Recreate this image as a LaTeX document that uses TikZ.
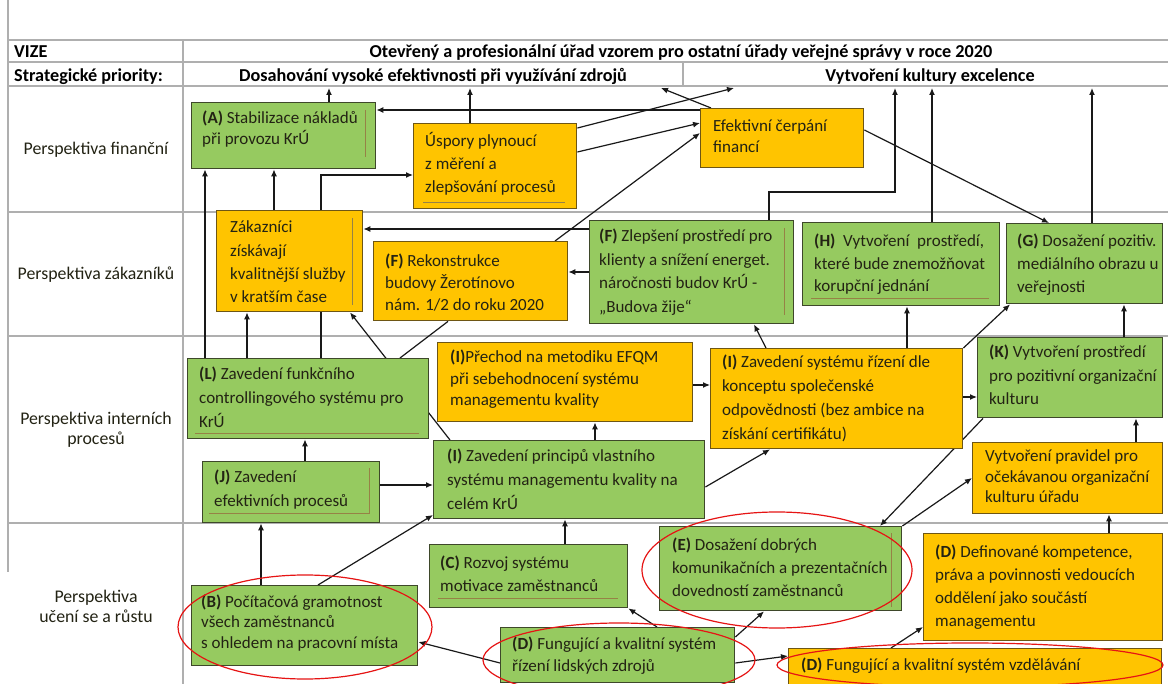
\documentclass[tikz,border=0pt]{standalone}
\usepackage{fontspec}
\setmainfont{Carlito}
\usetikzlibrary{arrows.meta,backgrounds}
\definecolor{gfill}{RGB}{150,202,96}
\definecolor{yfill}{RGB}{255,196,0}
\definecolor{gedge}{RGB}{62,72,42}
\definecolor{yedge}{RGB}{110,86,20}
\definecolor{tabline}{RGB}{175,175,175}
\definecolor{txtc}{RGB}{35,35,20}
\definecolor{innerc}{RGB}{150,130,70}
\definecolor{ellred}{RGB}{230,20,20}
\newcommand{\boxtxt}[2][22.5]{\fontsize{17}{#1}\selectfont\begin{tabular}[t]{@{}l@{}}#2\end{tabular}}
\newcommand{\ctrtxt}[2][20]{\fontsize{17.8}{#1}\selectfont\begin{tabular}[t]{@{}c@{}}#2\end{tabular}}
\tikzset{
  bx/.style={draw, line width=1.4pt, inner sep=0pt, anchor=north west},
  gbox/.style={bx, fill=gfill, draw=gedge},
  ybox/.style={bx, fill=yfill, draw=yedge},
  txt/.style={inner sep=0pt, anchor=base west, text=txtc},
  lbl/.style={inner sep=0pt, anchor=base, text=txtc},
  hdr/.style={inner sep=0pt, anchor=base, text=black, font=\fontsize{18.2}{20}\selectfont\bfseries},
  arr/.style={draw=black!90, line width=1.2pt, -{Latex[length=7pt,width=6pt]}},
  plainln/.style={draw=black!90, line width=1.2pt},
  tabrule/.style={draw=tabline, line width=1.6pt},
  innerline/.style={draw=innerc, line width=0.7pt},
  redring/.style={draw=ellred, line width=1.2pt},
}
\begin{document}
\begin{tikzpicture}[x=1pt,y=-1pt]
\useasboundingbox (0,0) rectangle (1168,684);
\clip (0,0) rectangle (1168,684);

% ---------- header texts ----------
\node[hdr, anchor=base west] (vize) at (14,58) {VIZE};
\node[hdr, anchor=base west] (strat) at (14,82) {Strategické priority:};
\node[hdr] (vision) at (681,58) {Otevřený a profesionální úřad vzorem pro ostatní úřady veřejné správy v roce 2020};
\node[hdr] (prio1) at (433,82) {Dosahování vysoké efektivnosti při využívání zdrojů};
\node[hdr] (prio2) at (930,82) {Vytvoření kultury excelence};

% ---------- row labels ----------
\node[lbl] (rF) at (96,155) {\ctrtxt{Perspektiva finanční}};
\node[lbl] (rZ) at (96,280) {\ctrtxt{Perspektiva zákazníků}};
\node[lbl] (rI) at (96,425) {\ctrtxt{Perspektiva interních\\procesů}};
\node[lbl] (rU) at (96,602) {\ctrtxt{Perspektiva\\učení se a růstu}};

% ---------- boxes ----------
\node[gbox, minimum width=184pt, minimum height=66pt] (A) at (191,102) {};
\node[ybox, minimum width=163pt, minimum height=85pt] (Usp) at (413,123) {};
\node[ybox, minimum width=163pt, minimum height=59pt] (Efe) at (700,108) {};
\node[ybox, minimum width=146pt, minimum height=101pt] (Zak) at (216,210) {};
\node[ybox, minimum width=194pt, minimum height=79pt] (Rek) at (373,241) {};
\node[gbox, minimum width=204pt, minimum height=103pt] (FZl) at (589,220) {};
\node[gbox, minimum width=197pt, minimum height=83pt] (H) at (802,222) {};
\node[gbox, minimum width=156pt, minimum height=80pt] (G) at (1006,223) {};
\node[gbox, minimum width=241pt, minimum height=80pt] (L) at (187,358) {};
\node[ybox, minimum width=255pt, minimum height=79pt] (EFQM) at (437,342) {};
\node[ybox, minimum width=252pt, minimum height=100pt] (I2) at (710,348) {};
\node[gbox, minimum width=185pt, minimum height=80pt] (K) at (977,337) {};
\node[gbox, minimum width=177pt, minimum height=61pt] (J) at (202,461) {};
\node[gbox, minimum width=271pt, minimum height=78pt] (I1) at (433,440) {};
\node[ybox, minimum width=190pt, minimum height=71pt] (Prav) at (972,442) {};
\node[gbox, minimum width=198pt, minimum height=63pt] (C) at (429,544) {};
\node[gbox, minimum width=242pt, minimum height=84pt] (E) at (659,526) {};
\node[ybox, minimum width=239pt, minimum height=107pt] (Def) at (923,533) {};
\node[gbox, minimum width=226pt, minimum height=80pt] (B) at (191,585) {};
\node[gbox, minimum width=234pt, minimum height=55pt] (DHR) at (500,627) {};
\node[ybox, minimum width=373pt, minimum height=36pt] (Dvzd) at (788,648) {};

% ---------- box texts ----------
\node[txt] (tA) at (202,124) {\boxtxt[21]{\textbf{(A)} Stabilizace nákladů\\při provozu KrÚ}};
\node[txt] (tUsp) at (425,147) {\boxtxt[23]{Úspory plynoucí\\z měření a\\zlepšování procesů}};
\node[txt] (tEfe) at (713,132) {\boxtxt[21]{Efektivní čerpání\\financí}};
\node[txt] (tZak) at (230,233) {\boxtxt[23.3]{Zákazníci\\získávají\\kvalitnější služby\\v kratším čase}};
\node[txt] (tRek) at (385,267) {\boxtxt[22]{\textbf{(F)} Rekonstrukce\\budovy Žerotínovo\\nám. 1/2 do roku 2020}};
\node[txt] (tFZl) at (599,242) {\boxtxt[23.5]{\textbf{(F)} Zlepšení prostředí pro\\klienty a snížení energet.\\náročnosti budov KrÚ -\\„Budova žije“}};
\node[txt] (tH) at (814,247) {\boxtxt[22.5]{\textbf{(H)}\ \ Vytvoření\ \ prostředí,\\které bude znemožňovat\\korupční jednání}};
\node[txt] (tG) at (1017,247) {\boxtxt[23]{\textbf{(G)} Dosažení pozitiv.\\mediálního obrazu u\\veřejnosti}};
\node[txt] (tL) at (199,380) {\boxtxt[24]{\textbf{(L)} Zavedení funkčního\\controllingového systému pro\\KrÚ}};
\node[txt] (tEFQM) at (450,363) {\boxtxt[21.5]{\textbf{(I)}Přechod na metodiku EFQM\\při sebehodnocení systému\\managementu kvality}};
\node[txt] (tI2) at (722,368) {\boxtxt[24]{\textbf{(I)} Zavedení systému řízení dle\\konceptu společenské\\odpovědnosti (bez ambice na\\získání certifikátu)}};
\node[txt] (tK) at (989,358) {\boxtxt[23.5]{\textbf{(K)} Vytvoření prostředí\\pro pozitivní organizační\\kulturu}};
\node[txt] (tJ) at (214,483) {\boxtxt[24]{\textbf{(J)} Zavedení\\efektivních procesů}};
\node[txt] (tI1) at (447,462) {\boxtxt[24]{\textbf{(I)} Zavedení principů vlastního\\systému managementu kvality na\\celém KrÚ}};
\node[txt] (tPrav) at (985,462) {\boxtxt[20.5]{Vytvoření pravidel pro\\očekávanou organizační\\kulturu úřadu}};
\node[txt] (tC) at (440,568) {\boxtxt[24]{\textbf{(C)} Rozvoj systému\\motivace zaměstnanců}};
\node[txt] (tE) at (672,550) {\boxtxt[23.5]{\textbf{(E)} Dosažení dobrých\\komunikačních a prezentačních\\dovedností zaměstnanců}};
\node[txt] (tDef) at (935,557) {\boxtxt[23.3]{\textbf{(D)} Definované kompetence,\\práva a povinnosti vedoucích\\oddělení jako součástí\\managementu}};
\node[txt] (tB) at (201,607) {\boxtxt[20.5]{\textbf{(B)} Počítačová gramotnost\\všech zaměstnanců\\s ohledem na pracovní místa}};
\node[txt] (tDHR) at (512,649) {\boxtxt[22]{\textbf{(D)} Fungující a kvalitní systém\\řízení lidských zdrojů}};
\node[txt] (tDvzd) at (801,670) {\boxtxt{\textbf{(D)} Fungující a kvalitní systém vzdělávání}};

% ---------- faint inner text-frame lines ----------
\draw[innerline] (365,110) -- (365,157);
\draw[innerline] (423,202) -- (565,202);
\draw[innerline] (352,218) -- (352,305);
\draw[innerline] (784,228) -- (784,315);
\draw[innerline] (811,298) -- (989,298);
\draw[innerline] (195,433) -- (419,433);
\draw[innerline] (369,468) -- (369,513) -- (209,513);
\draw[innerline] (438,598) -- (618,598);
\draw[innerline] (891,533) -- (891,607);

% ---------- red ellipses ----------
\draw[redring] (305,627) ellipse [x radius=127pt, y radius=52pt];
\draw[redring] (777,570) ellipse [x radius=135pt, y radius=58pt];
\draw[redring] (619,660) ellipse [x radius=136pt, y radius=37pt];
\draw[redring] (970,665) ellipse [x radius=193pt, y radius=22pt];

% ---------- free ends ----------
\coordinate (pA) at (329,88);
\coordinate (pU) at (470,88);
\coordinate (pE1) at (661,88);
\coordinate (pE2) at (734,88);
\coordinate (pF) at (895,88);
\coordinate (bF) at (895,192);
\coordinate (pH) at (932,88);
\coordinate (pG) at (1092,88);

\begin{scope}[on background layer]
\fill[white] (0,0) rectangle (1168,684);
% table
\draw[tabrule] (8,0) -- (8,572);
\draw[tabrule] (8,40) -- (1168,40);
\draw[tabrule] (8,62) -- (1168,62);
\draw[tabrule] (8,86) -- (1168,86);
\draw[tabrule] (8,212) -- (1168,212);
\draw[tabrule] (8,336) -- (1168,336);
\draw[tabrule] (8,523) -- (1168,523);
\draw[tabrule] (183,40) -- (183,684);
\draw[tabrule] (683,62) -- (683,86);
% connectors
\draw[arr] (A.north -| pA) -- (pA);
\draw[arr] (Usp.north -| pU) -- (pU);
\draw[arr] (Efe.north -| 711,0) -- (pE1);
\draw[arr] (Usp.east |- 0,128) -- (pE2);
\draw[arr] (Usp.east |- 0,152) -- (Efe.west |- 0,123);
\draw[arr] (Rek.north -| 555,0) -- (Efe.west |- 0,133);
\draw[arr] (Efe.west |- 0,110) -- (A.east |- 0,110);
\draw[arr] (FZl.north -| 769,0) |- (bF) -- (pF);
\draw[arr] (H.north -| pH) -- (pH);
\draw[arr] (G.north -| pG) -- (pG);
\draw[arr] (Efe.east |- 0,130) -- (G.north -| 1049,0);
\draw[arr] (L.north -| 205,0) -- (A.south -| 205,0);
\draw[arr] (Zak.north -| 274,0) -- (A.south -| 274,0);
\draw[arr] (L.north -| 321,0) |- (Usp.west |- 0,175);
\draw[arr] (L.north -| 247,0) -- (Zak.south -| 247,0);
\draw[arr] (I1.north -| 450,0) -- (Zak.south -| 350,0);
\draw[plainln] (L.north -| 400,0) -- (Rek.south -| 448,0);
\draw[arr] (FZl.west |- 0,229) -- (Zak.east |- 0,229);
\draw[arr] (FZl.west |- 0,272) -- (Rek.east |- 0,272);
\draw[arr] (I2.north -| 766,0) -- (FZl.south -| 754,0);
\draw[arr] (I2.north -| 907,0) -- (H.south -| 907,0);
\draw[arr] (I2.north east) -- (G.south -| 1010,0);
\draw[arr] (K.north -| 1124,0) -- (G.south -| 1124,0);
\draw[arr] (J.north -| 305,0) -- (L.south -| 305,0);
\draw[arr] (J.east |- 0,485) -- (I1.west |- 0,485);
\draw[arr] (I1.north -| 595,0) -- (EFQM.south -| 595,0);
\draw[arr] (EFQM.east |- 0,385) -- (I2.west |- 0,385);
\draw[arr] (I1.east |- 0,487) -- (I2.south -| 770,0);
\draw[arr] (I2.east |- 0,397) -- (K.west |- 0,397);
\draw[arr] (Prav.north -| 1136,0) -- (K.south -| 1136,0);
\draw[arr] (K.south -| 983,0) -- (E.north -| 880,0);
\draw[arr] (E.north east) -- (Prav.west |- 0,478);
\draw[arr] (Def.north -| 1109,0) -- (Prav.south -| 1109,0);
\draw[arr] (B.north -| 261,0) -- (J.south -| 261,0);
\draw[arr] (B.north -| 318,0) -- (I1.west |- 0,515);
\draw[arr] (C.north -| 565,0) -- (I1.south -| 565,0);
\draw[arr] (DHR.north -| 657,0) -- (C.south east);
\draw[arr] (DHR.west |- 0,663) -- (B.east |- 0,642);
\draw[arr] (DHR.east |- 0,637) -- (E.south -| 764,0);
\draw[arr] (DHR.east |- 0,663) -- (Dvzd.west |- 0,656);
\draw[arr] (Dvzd.north -| 891,0) -- (Def.west |- 0,627);
\end{scope}
\end{tikzpicture}
\end{document}
